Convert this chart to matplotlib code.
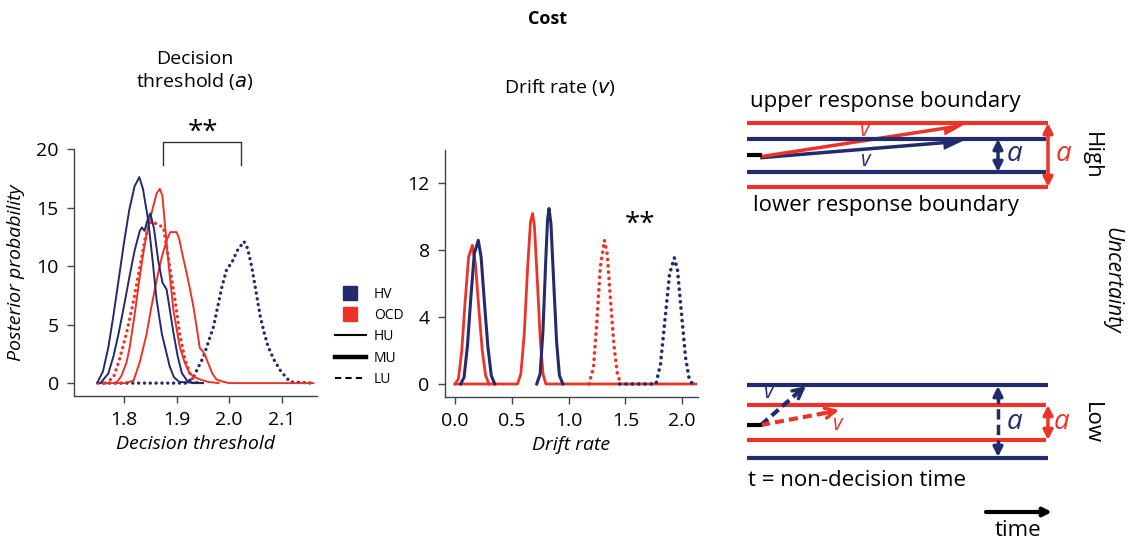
import numpy as np
import matplotlib.pyplot as plt
from matplotlib.lines import Line2D

plt.rcParams['font.family'] = ['Open Sans', 'DejaVu Sans']

NAVY = '#222c6c'
RED = '#ec3327'

# ---- decision threshold posteriors (a) ----
thr_hv_hu_x = [1.75, 1.76, 1.77, 1.78, 1.79, 1.80, 1.81, 1.82, 1.829, 1.836, 1.846, 1.855, 1.862, 1.872, 1.887, 1.895, 1.905, 1.95]
thr_hv_hu_y = [0.1, 1.0, 3.0, 5.8, 8.9, 12.0, 14.8, 16.8, 17.6, 16.6, 13.9, 10.2, 7.1, 4.2, 1.4, 0.5, 0.1, 0]

thr_hv_mu_x = [1.755, 1.77, 1.78, 1.79, 1.80, 1.81, 1.82, 1.83, 1.834, 1.839, 1.845, 1.85, 1.857, 1.865, 1.873, 1.881, 1.888, 1.894, 1.902, 1.91, 1.92, 1.93, 1.95]
thr_hv_mu_y = [0, 0.8, 2.3, 4.3, 6.6, 9.0, 11.3, 13.0, 13.3, 13.0, 14.0, 14.5, 13.2, 10.5, 8.6, 8.0, 6.0, 4.3, 2.3, 0.85, 0.2, 0, 0]

thr_hv_lu_x = [1.75, 1.919, 1.932, 1.951, 1.97, 1.986, 1.995, 2.005, 2.015, 2.028, 2.035, 2.043, 2.051, 2.059, 2.067, 2.074, 2.085, 2.097, 2.106, 2.116, 2.16]
thr_hv_lu_y = [0, 0, 0.5, 2.25, 4.8, 8.2, 9.7, 10.3, 11.3, 12.1, 11.5, 9.9, 7.8, 5.7, 4.2, 3.1, 2.0, 1.1, 0.6, 0.1, 0]

thr_ocd_hu_x = [1.785, 1.795, 1.805, 1.811, 1.82, 1.83, 1.838, 1.846, 1.855, 1.862, 1.868, 1.873, 1.878, 1.884, 1.894, 1.906, 1.915, 1.925, 1.935, 1.945, 1.96, 1.98]
thr_ocd_hu_y = [0, 0.6, 1.8, 3.1, 5.8, 9.1, 11.5, 13.4, 15.0, 16.2, 16.6, 16.0, 13.4, 10.5, 6.2, 3.1, 1.8, 0.8, 0.5, 0.3, 0.1, 0]

thr_ocd_mu_x = [1.75, 1.80, 1.818, 1.83, 1.843, 1.852, 1.862, 1.872, 1.881, 1.888, 1.90, 1.905, 1.912, 1.919, 1.926, 1.932, 1.938, 1.944, 1.95, 1.955, 1.96, 1.968, 1.976, 1.99, 2.0, 2.16]
thr_ocd_mu_y = [0, 0, 0.2, 1.8, 4.2, 6.5, 8.8, 10.8, 12.2, 12.9, 12.9, 12.3, 10.8, 9.4, 7.9, 6.5, 4.8, 3.0, 2.7, 2.3, 1.7, 0.8, 0.3, 0.1, 0, 0]

thr_ocd_lu_x = [1.765, 1.78, 1.79, 1.805, 1.818, 1.83, 1.84, 1.848, 1.853, 1.862, 1.875, 1.884, 1.897, 1.906, 1.916, 1.928, 1.94]
thr_ocd_lu_y = [0, 0.5, 1.8, 4.3, 7.0, 9.9, 12.3, 13.6, 13.8, 13.6, 13.3, 10.8, 7.1, 4.2, 2.0, 0.5, 0]

# ---- drift rate posteriors (v) ----
drift_hv_hu_x = [0.05, 0.08, 0.11, 0.14, 0.17, 0.205, 0.23, 0.26, 0.29, 0.32, 0.35]
drift_hv_hu_y = [0, 0.4, 2.3, 5.2, 7.8, 8.6, 7.6, 4.8, 2.2, 0.5, 0]

drift_ocd_hu_x = [0.0, 0.03, 0.06, 0.09, 0.12, 0.153, 0.18, 0.21, 0.24, 0.27, 0.30]
drift_ocd_hu_y = [0, 0.3, 2.0, 5.0, 7.6, 8.3, 7.2, 4.5, 2.0, 0.5, 0]

drift_hv_mu_x = [0.72, 0.75, 0.775, 0.80, 0.815, 0.828, 0.845, 0.87, 0.895, 0.92, 0.95]
drift_hv_mu_y = [0, 0.6, 3.2, 7.5, 9.8, 10.5, 9.6, 6.0, 2.5, 0.5, 0]

drift_ocd_mu_x = [0.0, 0.55, 0.58, 0.61, 0.64, 0.665, 0.684, 0.70, 0.725, 0.75, 0.775, 0.80, 2.12]
drift_ocd_mu_y = [0, 0, 0.6, 3.0, 7.0, 9.7, 10.2, 9.4, 6.2, 2.8, 0.6, 0, 0]

drift_hv_lu_x = [1.45, 1.77, 1.81, 1.85, 1.89, 1.932, 1.96, 1.995, 2.03, 2.06, 2.09]
drift_hv_lu_y = [0, 0, 1.2, 3.9, 6.6, 7.55, 6.8, 4.2, 1.6, 0.4, 0]

drift_ocd_lu_x = [1.18, 1.22, 1.25, 1.28, 1.316, 1.34, 1.37, 1.40, 1.43, 1.46]
drift_ocd_lu_y = [0, 1.0, 3.8, 7.0, 8.6, 7.8, 5.0, 2.3, 0.6, 0]

thr_ticks = [1.8, 1.9, 2.0, 2.1]
thr_yticks = [0, 5, 10, 15, 20]
drift_ticks = [0.0, 0.5, 1.0, 1.5, 2.0]
drift_yticks = [0, 4, 8, 12]

legend_labels = ['HV', 'OCD', 'HU', 'MU', 'LU']

fig = plt.figure(figsize=(11.32, 5.42), dpi=100)

dot = (0, (0.05, 1.7))


def style_axes(ax):
    for s in ['top', 'right']:
        ax.spines[s].set_visible(False)
    for s in ['left', 'bottom']:
        ax.spines[s].set_color('#444444')
        ax.spines[s].set_linewidth(1.0)
    ax.tick_params(direction='out', length=5, width=1, color='#444444', labelsize=14, pad=6)


# panel 1
ax1 = fig.add_axes([0.0654, 0.2694, 0.2147, 0.4557])
ax1.plot(thr_hv_lu_x, thr_hv_lu_y, color=NAVY, lw=2.4, ls=dot, dash_capstyle='round')
ax1.plot(thr_ocd_mu_x, thr_ocd_mu_y, color=RED, lw=1.4)
ax1.plot(thr_ocd_hu_x, thr_ocd_hu_y, color=RED, lw=1.4)
ax1.plot(thr_ocd_lu_x, thr_ocd_lu_y, color=RED, lw=2.4, ls=dot, dash_capstyle='round')
ax1.plot(thr_hv_mu_x, thr_hv_mu_y, color=NAVY, lw=1.4)
ax1.plot(thr_hv_hu_x, thr_hv_hu_y, color=NAVY, lw=1.4)
ax1.set_xlim(1.705, 2.167)
ax1.set_ylim(-1.1, 20)
ax1.set_xticks(thr_ticks)
ax1.set_xticklabels(['1.8', '1.9', '2.0', '2.1'])
ax1.set_yticks(thr_yticks)
style_axes(ax1)
ax1.set_xlabel('Decision threshold', fontsize=14, style='italic', labelpad=4)
ax1.set_ylabel('Posterior probability', fontsize=14, style='italic', labelpad=8)
ax1.plot([1.875, 1.875, 2.022, 2.022], [18.6, 20.6, 20.6, 18.6], color='#333333', lw=1, clip_on=False)
ax1.text(1.95, 20.15, '**', fontsize=20, ha='center', va='bottom')
ax1.text(1.935, 24.85, 'Decision\nthreshold ($\\mathit{a}$)', fontsize=14, ha='center', va='bottom', linespacing=1.2)

# panel 2
ax2 = fig.add_axes([0.3931, 0.2675, 0.2235, 0.4557])
ax2.plot(drift_ocd_mu_x, drift_ocd_mu_y, color=RED, lw=2.0)
ax2.plot(drift_ocd_hu_x, drift_ocd_hu_y, color=RED, lw=2.0)
ax2.plot(drift_hv_hu_x, drift_hv_hu_y, color=NAVY, lw=2.2)
ax2.plot(drift_hv_mu_x, drift_hv_mu_y, color=NAVY, lw=2.2)
ax2.plot(drift_ocd_lu_x, drift_ocd_lu_y, color=RED, lw=2.6, ls=dot, dash_capstyle='round')
ax2.plot(drift_hv_lu_x, drift_hv_lu_y, color=NAVY, lw=2.6, ls=dot, dash_capstyle='round')
ax2.set_xlim(-0.088, 2.14)
ax2.set_ylim(-0.78, 14)
ax2.set_xticks(drift_ticks)
ax2.set_yticks(drift_yticks)
style_axes(ax2)
ax2.set_xlabel('Drift rate', fontsize=14, style='italic', labelpad=4)
ax2.text(1.63, 8.7, '**', fontsize=20, ha='center', va='bottom')
ax2.text(0.92, 17.12, 'Drift rate ($\\mathit{v}$)', fontsize=14, ha='center', va='bottom')

fig.text(0.484, 0.965, 'Cost', fontsize=13, fontweight='bold', ha='center', va='center')

# legend between the panels
handles = [Line2D([], [], color=NAVY, marker='s', ls='none', markersize=10),
           Line2D([], [], color=RED, marker='s', ls='none', markersize=10),
           Line2D([], [], color='black', lw=1.5),
           Line2D([], [], color='black', lw=3.2),
           Line2D([], [], color='black', lw=1.5, ls=(0, (3, 2)))]
fig.legend(handles, legend_labels, loc='upper left',
           bbox_to_anchor=(0.285, 0.494), frameon=False, fontsize=10,
           handlelength=2.2, labelspacing=0.45, handletextpad=0.6)

# ---- schematic of the drift diffusion model ----
ax3 = fig.add_axes([720 / 1132, 0, 412 / 1132, 1])
ax3.set_xlim(720, 1132)
ax3.set_ylim(542, 0)
ax3.axis('off')

x0, x1 = 747, 1048
bw = 3.0

# high uncertainty
ax3.text(750, 102, 'upper response boundary', fontsize=16, va='center')
ax3.text(753, 206, 'lower response boundary', fontsize=16, va='center')
ax3.plot([x0, x1], [123, 123], color=RED, lw=bw, solid_capstyle='butt')
ax3.plot([x0, x1], [187, 187], color=RED, lw=bw, solid_capstyle='butt')
ax3.plot([x0, 1046], [139, 139], color=NAVY, lw=bw, solid_capstyle='butt')
ax3.plot([x0, 1046], [172, 172], color=NAVY, lw=bw, solid_capstyle='butt')
ax3.arrow(760, 156, 207, -17, shape='right', width=7, head_width=18, head_length=24,
          length_includes_head=True, color=NAVY, lw=0)
ax3.arrow(760, 155, 207, -32, shape='right', width=7, head_width=18, head_length=24,
          length_includes_head=True, color=RED, lw=0)
ax3.plot([x0, 762], [155, 155], color='black', lw=bw, solid_capstyle='butt')
ax3.text(865, 131, 'v', color=RED, fontsize=15, style='italic', ha='center', va='center')
ax3.text(866, 160, 'v', color=NAVY, fontsize=15, style='italic', ha='center', va='center')
ax3.annotate('', xy=(998, 139), xytext=(998, 172),
             arrowprops=dict(arrowstyle='<|-|>', color=NAVY, lw=2.5, mutation_scale=14, shrinkA=0, shrinkB=0))
ax3.annotate('', xy=(1048, 123), xytext=(1048, 187),
             arrowprops=dict(arrowstyle='<|-|>', color=RED, lw=2.5, mutation_scale=14, shrinkA=0, shrinkB=0))
ax3.text(1015, 154, 'a', color=NAVY, fontsize=20, style='italic', ha='center', va='center')
ax3.text(1064, 154, 'a', color=RED, fontsize=20, style='italic', ha='center', va='center')
ax3.text(1091, 156, 'High', fontsize=16, rotation=-90, ha='center', va='center')

ax3.text(1112, 280, 'Uncertainty', fontsize=15, style='italic', rotation=-90, ha='center', va='center')

# low uncertainty
ax3.plot([x0, x1], [385, 385], color=NAVY, lw=bw, solid_capstyle='butt')
ax3.plot([x0, x1], [458, 458], color=NAVY, lw=bw, solid_capstyle='butt')
ax3.plot([x0, 1046], [405, 405], color=RED, lw=bw, solid_capstyle='butt')
ax3.plot([x0, 1046], [440, 440], color=RED, lw=bw, solid_capstyle='butt')
ax3.plot([761, 802], [425, 389], color=NAVY, lw=3, ls=(0, (2.2, 1.2)))
ax3.annotate('', xy=(806, 386), xytext=(795, 395),
             arrowprops=dict(arrowstyle='->', color=NAVY, lw=2.5, mutation_scale=18, shrinkA=0, shrinkB=0))
ax3.plot([761, 836], [425, 411], color=RED, lw=3, ls=(0, (2.2, 1.2)))
ax3.annotate('', xy=(839, 410), xytext=(826, 413),
             arrowprops=dict(arrowstyle='->', color=RED, lw=2.5, mutation_scale=18, shrinkA=0, shrinkB=0))
ax3.plot([x0, 762], [425, 425], color='black', lw=bw, solid_capstyle='butt')
ax3.text(769, 393, 'v', color=NAVY, fontsize=15, style='italic', ha='center', va='center')
ax3.text(838, 424, 'v', color=RED, fontsize=15, style='italic', ha='center', va='center')
ax3.plot([998, 998], [393, 450], color=NAVY, lw=2.5, ls=(0, (3, 1.5)))
ax3.annotate('', xy=(998, 386), xytext=(998, 398),
             arrowprops=dict(arrowstyle='-|>', color=NAVY, lw=2.5, mutation_scale=14, shrinkA=0, shrinkB=0))
ax3.annotate('', xy=(998, 457), xytext=(998, 445),
             arrowprops=dict(arrowstyle='-|>', color=NAVY, lw=2.5, mutation_scale=14, shrinkA=0, shrinkB=0))
ax3.annotate('', xy=(1048, 405), xytext=(1048, 440),
             arrowprops=dict(arrowstyle='<|-|>', color=RED, lw=2.5, mutation_scale=14, shrinkA=0, shrinkB=0))
ax3.text(1015, 422, 'a', color=NAVY, fontsize=20, style='italic', ha='center', va='center')
ax3.text(1062, 422, 'a', color=RED, fontsize=20, style='italic', ha='center', va='center')
ax3.text(1091, 423, 'Low', fontsize=16, rotation=-90, ha='center', va='center')
ax3.text(748, 480, 't = non-decision time', fontsize=16, va='center')
ax3.annotate('', xy=(1052, 512), xytext=(986, 512),
             arrowprops=dict(arrowstyle='-|>', color='black', lw=3, mutation_scale=12, shrinkA=0, shrinkB=0))
ax3.text(1018, 530, 'time', fontsize=16, ha='center', va='center')

fig.savefig('out.png', dpi=100)
